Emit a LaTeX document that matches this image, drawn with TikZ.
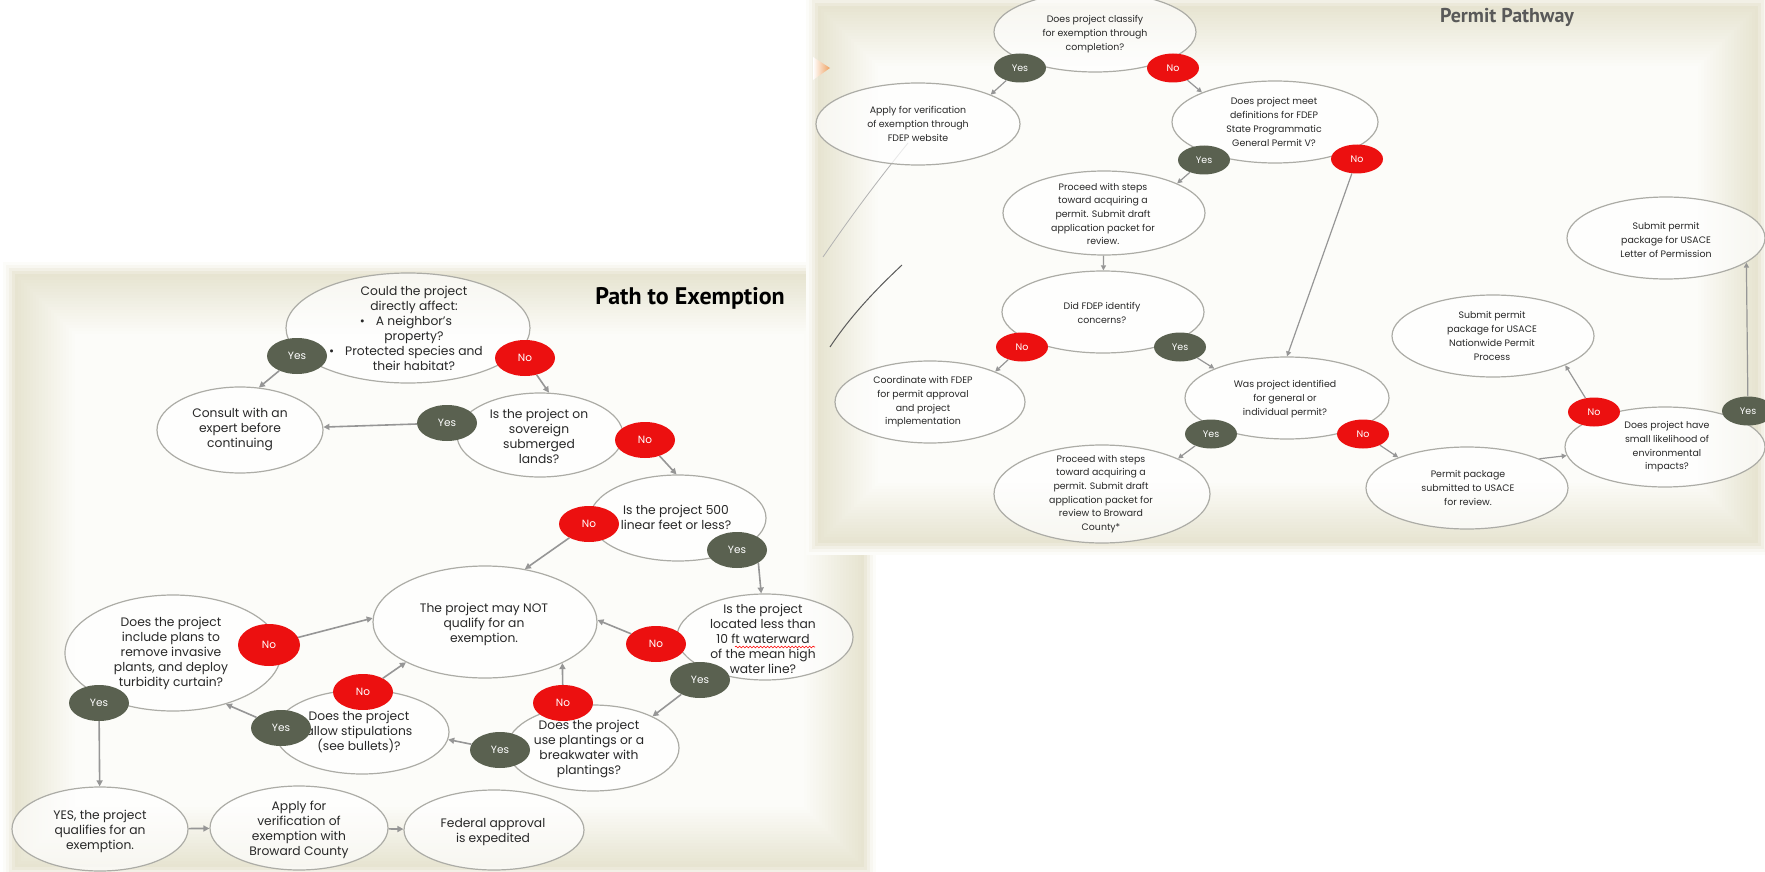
\documentclass[tikz,border=0pt]{standalone}
\usepackage{fontspec}
\setmainfont{Poppins}
\newfontfamily\titlefont{PT Sans}
\usetikzlibrary{shapes.geometric,arrows.meta,decorations.pathmorphing}
\definecolor{olivebadge}{RGB}{90,97,80}
\definecolor{redbadge}{RGB}{236,16,16}
\definecolor{ovalgray}{RGB}{172,172,166}
\definecolor{arrgray}{RGB}{150,150,150}
\definecolor{txtcol}{RGB}{40,40,40}
\definecolor{panelbeige}{RGB}{231,228,209}
\definecolor{panelwhite}{RGB}{252,252,249}
\definecolor{swoosh}{RGB}{90,90,90}
\definecolor{chevron}{RGB}{238,160,95}
\tikzset{
  oval/.style={ellipse, draw=ovalgray, line width=1.2pt, fill=white, fill opacity=0.7, inner sep=0pt},
  ltxt/.style={align=center, font=\fontsize{12.3}{15}\selectfont, text=txtcol, inner sep=0pt},
  rtxt/.style={align=center, font=\fontsize{9.4}{13.7}\selectfont, text=txtcol, inner sep=0pt},
  badgeL/.style={ellipse, text=white, minimum width=60pt, minimum height=36pt, inner sep=0pt, font=\fontsize{10.5}{12}\selectfont},
  badgeR/.style={ellipse, text=white, minimum width=52pt, minimum height=29pt, inner sep=0pt, font=\fontsize{9.5}{11}\selectfont},
  yesL/.style={badgeL, fill=olivebadge},
  noL/.style={badgeL, fill=redbadge},
  yesR/.style={badgeR, fill=olivebadge},
  noR/.style={badgeR, fill=redbadge},
  arrL/.style={draw=arrgray, line width=1.6pt, -{Triangle[length=6pt,width=6pt]}},
  arrR/.style={draw=arrgray, line width=1.2pt, -{Triangle[length=5pt,width=5pt]}},
  ttl/.style={inner sep=0pt, font=\titlefont\bfseries}
}
% soft-edged panel: outer glow, then nested rectangles from beige to white
\newcommand\softpanel[4]{%
  \foreach \i/\pc in {-4/12,-3/30,-2/55,-1/80}{%
    \pgfmathsetmacro\ins{\i*3}%
    \fill[panelbeige!\pc!white] (#1+\ins,#2+\ins) rectangle (#3-\ins,#4-\ins);%
  }%
  \foreach \i in {0,...,20}{%
    \pgfmathtruncatemacro\pc{100-\i*5}%
    \pgfmathsetmacro\ins{\i*3}%
    \fill[panelbeige!\pc!panelwhite] (#1+\ins,#2+\ins) rectangle (#3-\ins,#4-\ins);%
  }%
}
\begin{document}
\begin{tikzpicture}[x=1pt,y=-1pt]
\useasboundingbox (0,0) rectangle (1765,872);
\fill[white] (0,0) rectangle (1765,872);

% ---------- left panel ----------
\softpanel{15}{274}{864}{867}
\node[ttl, font=\titlefont\bfseries\fontsize{24}{28}\selectfont, text=black] (ttlL) at (690,298) {Path to Exemption};

\node[oval, minimum width=244pt, minimum height=110pt] (n1) at (408,328) {};
\node[oval, minimum width=166pt, minimum height=86pt] (n2) at (240,430) {};
\node[oval, minimum width=166pt, minimum height=84pt] (n3) at (540,435) {};
\node[oval, minimum width=176pt, minimum height=86pt] (n4) at (678,518) {};
\node[oval, minimum width=224pt, minimum height=112pt] (n5) at (485,622) {};
\node[oval, minimum width=176pt, minimum height=86pt] (n6) at (765,637) {};
\node[oval, minimum width=172pt, minimum height=86pt] (n7) at (593,748) {};
\node[oval, minimum width=174pt, minimum height=84pt] (n8) at (362,732) {};
\node[oval, minimum width=216pt, minimum height=116pt] (n9) at (173,653) {};
\node[oval, minimum width=176pt, minimum height=84pt] (n10) at (100,829) {};
\node[oval, minimum width=178pt, minimum height=84pt] (n11) at (299,828) {};
\node[oval, minimum width=180pt, minimum height=80pt] (n12) at (494,830) {};

\node[ltxt] (n1t) at (414,328) {Could the project\\directly affect:\\\llap{\textbullet\hspace{0.9em}}A neighbor’s\\property?\\\llap{\textbullet\hspace{0.9em}}Protected species and\\their habitat?};
\node[ltxt] (n2t) at (240,429) {Consult with an\\expert before\\continuing};
\node[ltxt] (n3t) at (539,436) {Is the project on\\sovereign\\submerged\\lands?};
\node[ltxt] (n4t) at (676,517) {Is the project 500\\linear feet or less?};
\node[ltxt] (n5t) at (484,624) {The project may NOT\\qualify for an\\exemption.};
\node[ltxt] (n6t) at (763,639) {Is the project\\located less than\\10 ft waterward\\of the mean high\\water line?};
\node[ltxt] (n7t) at (589,749) {Does the project\\use plantings or a\\breakwater with\\plantings?};
\node[ltxt] (n8t) at (359,732) {Does the project\\allow stipulations\\(see bullets)?};
\node[ltxt] (n9t) at (171,653) {Does the project\\include plans to\\remove invasive\\plants, and deploy\\turbidity curtain?};
\node[ltxt] (n10t) at (100,831) {YES, the project\\qualifies for an\\exemption.};
\node[ltxt] (n11t) at (299,830) {Apply for\\verification of\\exemption with\\Broward County};
\node[ltxt] (n12t) at (493,832) {Federal approval\\is expedited};
\draw[red, line width=0.6pt, decorate, decoration={snake, amplitude=0.9pt, segment length=3.5pt}] (735,647) -- (815,647);

% badges (left)
\node[yesL] (y1) at (297,356) {Yes};
\node[noL] (no1) at (525,358) {No};
\node[yesL] (y2) at (447,423) {Yes};
\node[noL] (no2) at (645,440) {No};
\node[noL] (no3) at (589,524) {No};
\node[yesL] (y3) at (737,550) {Yes};
\node[noL] (no4) at (656,644) {No};
\node[yesL] (y4) at (700,680) {Yes};
\node[noL] (no5) at (563,703) {No};
\node[yesL] (y5) at (500,750) {Yes};
\node[noL] (no6) at (363,692) {No};
\node[yesL] (y6) at (281,728) {Yes};
\node[noL, minimum width=62pt, minimum height=42pt] (no7) at (269,645) {No};
\node[yesL] (y7) at (99,703) {Yes};

% connectors (left)
\draw[arrL] (y1) -- (n2.66);
\draw[arrL] (no1) -- (n3.78);
\draw[arrL] (y2) -- (n2.2);
\draw[arrL] (no2) -- (n4.92);
\draw[arrL] (no3) -- (n5.53);
\draw[arrL] (y3.south east) -- (n6.95);
\draw[arrL] (no4) -- (n5.1);
\draw[arrL] (y4) -- (n7.28);
\draw[arrL] (no5) -- (n5.-28);
\draw[arrL] (y5) -- (n8.-5);
\draw[arrL] (no6) -- (n5.207);
\draw[arrL] (y6) -- (n9.-44);
\draw[arrL] (no7) -- (n5.178);
\draw[arrL] (y7) -- (n10);
\draw[arrL] (n10) -- (n11);
\draw[arrL] (n11) -- (n12);

% ---------- right panel ----------
\softpanel{818}{6}{1758}{543}
\shade[left color=white, right color=chevron] (813,57) -- (830,68) -- (813,80) -- cycle;
\draw[black!30, line width=0.8pt] (908,143) .. controls (870,190) and (845,225) .. (823,257);
\draw[swoosh, line width=1pt] (902,265) .. controls (870,295) and (848,320) .. (830,347);
\node[ttl, font=\titlefont\bfseries\fontsize{20}{24}\selectfont, text=black!65] (ttlR) at (1507,17) {Permit Pathway};

\node[oval, minimum width=202pt, minimum height=80pt] (r1) at (1095,32) {};
\node[oval, minimum width=204pt, minimum height=82pt] (r2) at (918,124) {};
\node[oval, minimum width=206pt, minimum height=82pt] (r3) at (1275,122) {};
\node[oval, minimum width=202pt, minimum height=84pt] (r4) at (1104,213) {};
\node[oval, minimum width=202pt, minimum height=82pt] (r5) at (1103,312) {};
\node[oval, minimum width=190pt, minimum height=82pt] (r6) at (930,402) {};
\node[oval, minimum width=204pt, minimum height=82pt] (r7) at (1287,398) {};
\node[oval, minimum width=216pt, minimum height=98pt] (r8) at (1102,494) {};
\node[oval, minimum width=202pt, minimum height=82pt] (r9) at (1467,488) {};
\node[oval, minimum width=200pt, minimum height=80pt] (r10) at (1665,447) {};
\node[oval, minimum width=202pt, minimum height=82pt] (r11) at (1493,336) {};
\node[oval, minimum width=198pt, minimum height=82pt] (r12) at (1666,238) {};

\node[rtxt] (r1t) at (1095,34) {Does project classify\\for exemption through\\completion?};
\node[rtxt] (r2t) at (918,124) {Apply for verification\\of exemption through\\FDEP website};
\node[rtxt] (r3t) at (1274,122) {Does project meet\\definitions for FDEP\\State Programmatic\\General Permit V?};
\node[rtxt] (r4t) at (1103,214) {Proceed with steps\\toward acquiring a\\permit. Submit draft\\application packet for\\review.};
\node[rtxt] (r5t) at (1102,313) {Did FDEP identify\\concerns?};
\node[rtxt] (r6t) at (923,402) {Coordinate with FDEP\\for permit approval\\and project\\implementation};
\node[rtxt] (r7t) at (1285,399) {Was project identified\\for general or\\individual permit?};
\node[rtxt] (r8t) at (1101,494) {Proceed with steps\\toward acquiring a\\permit. Submit draft\\application packet for\\review to Broward\\County*};
\node[rtxt] (r9t) at (1468,488) {Permit package\\submitted to USACE\\for review.};
\node[rtxt] (r10t) at (1667,447) {Does project have\\small likelihood of\\environmental\\impacts?};
\node[rtxt] (r11t) at (1492,336) {Submit permit\\package for USACE\\Nationwide Permit\\Process};
\node[rtxt] (r12t) at (1666,240) {Submit permit\\package for USACE\\Letter of Permission};

% badges (right)
\node[yesR] (yr1) at (1020,68) {Yes};
\node[noR] (nr1) at (1173,68) {No};
\node[yesR] (yr3) at (1204,160) {Yes};
\node[noR] (nr3) at (1357,159) {No};
\node[noR] (nr5) at (1022,347) {No};
\node[yesR] (yr5) at (1180,347) {Yes};
\node[yesR] (yr7) at (1211,434) {Yes};
\node[noR] (nr7) at (1363,434) {No};
\node[noR] (nr10) at (1594,412) {No};
\node[yesR] (yr10) at (1748,411) {Yes};

% connectors (right)
\draw[arrR] (yr1) -- (r2.22);
\draw[arrR] (nr1) -- (r3.158);
\draw[arrR] (yr3) -- (r4.22);
\draw[arrR] (r4) -- (r5);
\draw[arrR] (nr3) -- (r7.north);
\draw[arrR] (nr5) -- (r6.25);
\draw[arrR] (yr5) -- (r7.158);
\draw[arrR] (yr7) -- (r8.25);
\draw[arrR] (nr7) -- (r9.156);
\draw[arrR] (r9.22) -- (r10.185);
\draw[arrR] (nr10) -- (r11.-22);
\draw[arrR] (yr10) -- (r12.-17);
\end{tikzpicture}
\end{document}
